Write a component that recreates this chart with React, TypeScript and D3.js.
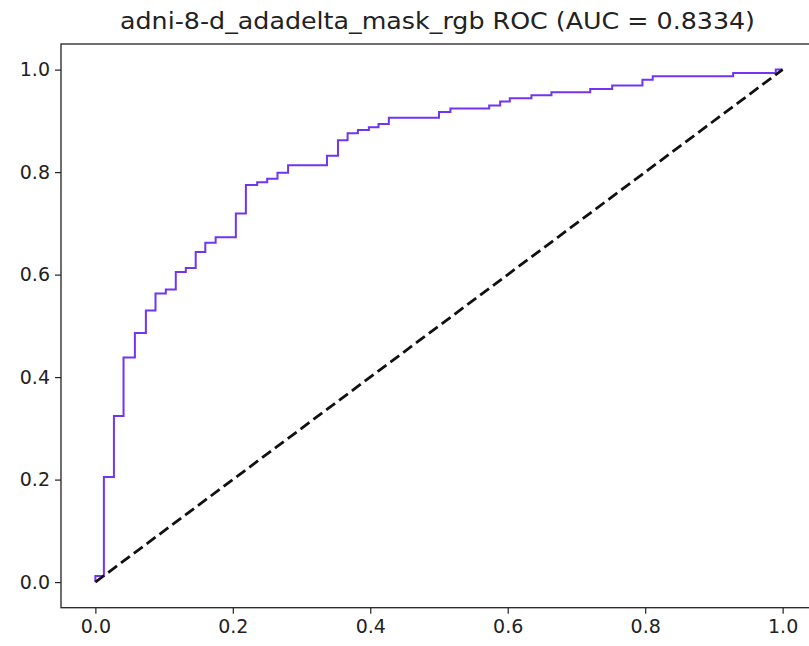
import { useRef, useEffect } from 'react'
import * as d3 from 'd3'

const title = 'adni-8-d_adadelta_mask_rgb ROC (AUC = 0.8334)'

// ROC corner points (false positive rate, true positive rate)
const fpr = [0, 0, 0.0124, 0.027, 0.041, 0.0575, 0.0735, 0.0875, 0.1025, 0.117, 0.1316, 0.146, 0.16, 0.175, 0.2044, 0.219, 0.2354, 0.25, 0.265, 0.2804, 0.337, 0.353, 0.367, 0.382, 0.398, 0.412, 0.427, 0.5, 0.5166, 0.573, 0.589, 0.603, 0.6345, 0.6636, 0.72, 0.752, 0.796, 0.811, 0.928, 0.99, 1.0]
const tpr = [0, 0.012, 0.205, 0.324, 0.438, 0.486, 0.53, 0.563, 0.571, 0.605, 0.613, 0.644, 0.662, 0.673, 0.719, 0.775, 0.78, 0.787, 0.799, 0.8135, 0.832, 0.862, 0.876, 0.882, 0.8876, 0.894, 0.906, 0.9175, 0.924, 0.93, 0.938, 0.944, 0.95, 0.956, 0.962, 0.969, 0.98, 0.987, 0.9935, 1.0, 1.0]

const diagonal = [0, 1]
const xTicks = [0, 0.2, 0.4, 0.6, 0.8, 1.0]
const yTicks = [0, 0.2, 0.4, 0.6, 0.8, 1.0]

const App = () => {
  const ref = useRef<SVGSVGElement>(null)

  useEffect(() => {
    if (!ref.current) return
    const svg = d3.select(ref.current)
    svg.selectAll('*').remove()
    const width = 809
    const height = 646
    const left = 61
    const right = 817
    const top = 44
    const bottom = 607.7

    const x = d3.scaleLinear().domain([-0.05, 1.05]).range([left, right])
    const y = d3.scaleLinear().domain([-0.05, 1.05]).range([bottom, top])

    svg.attr('width', width).attr('height', height)
    svg.append('rect').attr('width', width).attr('height', height).attr('fill', '#fff')

    const pts = fpr.map((f, i) => [f, tpr[i]] as [number, number])
    const line = d3.line<[number, number]>()
      .x(d => x(d[0]))
      .y(d => y(d[1]))
      .curve(d3.curveStepAfter)

    svg.append('path')
      .attr('d', line(pts))
      .attr('fill', 'none')
      .attr('stroke', '#7034f2')
      .attr('stroke-width', 2)

    const diagLine = d3.line<number>().x(d => x(d)).y(d => y(d))
    svg.append('path')
      .attr('d', diagLine(diagonal))
      .attr('fill', 'none')
      .attr('stroke', '#111')
      .attr('stroke-width', 2.8)
      .attr('stroke-dasharray', '11,5')

    // frame
    svg.append('rect')
      .attr('x', left)
      .attr('y', top)
      .attr('width', right - left)
      .attr('height', bottom - top)
      .attr('fill', 'none')
      .attr('stroke', '#222')
      .attr('stroke-width', 1.3)

    const xAxis = svg.append('g')
      .attr('transform', `translate(0,${bottom})`)
      .call(d3.axisBottom(x).tickValues(xTicks).tickFormat(d3.format('.1f')).tickSize(6).tickPadding(6))
    const yAxis = svg.append('g')
      .attr('transform', `translate(${left},0)`)
      .call(d3.axisLeft(y).tickValues(yTicks).tickFormat(d3.format('.1f')).tickSize(6).tickPadding(5))
    for (const ax of [xAxis, yAxis]) {
      ax.select('.domain').remove()
      ax.selectAll('line').attr('stroke', '#222').attr('stroke-width', 1.2)
      ax.selectAll('text')
        .attr('fill', '#222')
        .attr('font-family', 'DejaVu Sans')
        .attr('font-size', 19)
    }

    svg.append('text')
      .attr('x', 120)
      .attr('y', 29)
      .attr('font-family', 'DejaVu Sans')
      .attr('font-size', 23)
      .attr('textLength', 635)
      .attr('lengthAdjust', 'spacingAndGlyphs')
      .attr('fill', '#222')
      .text(title)
  }, [])

  return <svg ref={ref} style={{ position: 'absolute', left: 0, top: 0, display: 'block' }} />
}

export default App
